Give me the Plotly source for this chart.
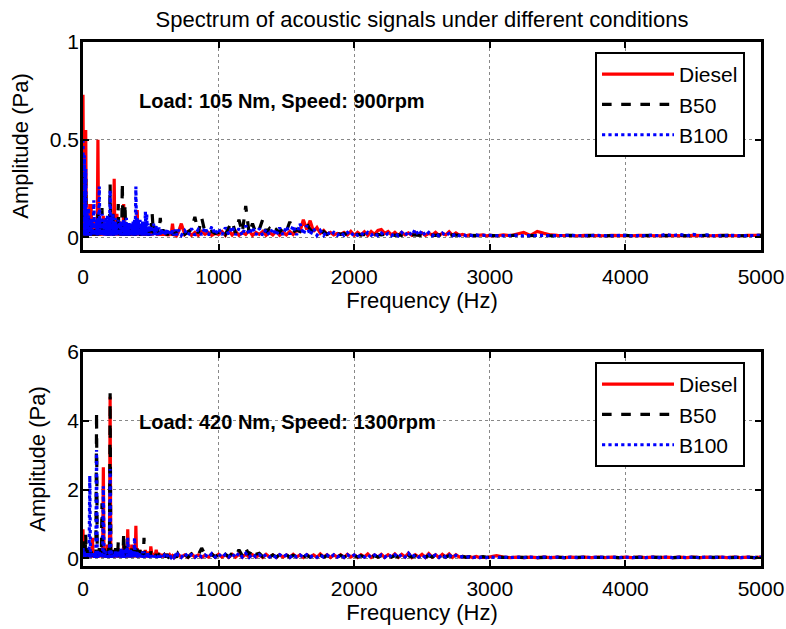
import plotly.graph_objects as go

# ---------------- data (amplitudes in mPa) ----------------
freq_lo = list(range(0, 500, 5))         # 100 bins
freq_lo2 = list(range(500, 700, 10))     # 20 bins
freq_mid = list(range(700, 3000, 25))    # 92 bins
freq_hi = list(range(3000, 5001, 50))    # 41 bins
freq = freq_lo + freq_lo2 + freq_mid + freq_hi

series_names = ["Diesel", "B50", "B100"]
annotations_text = ["Load: 105 Nm, Speed: 900rpm", "Load: 420 Nm, Speed: 1300rpm"]

# ---- top panel: 105 Nm, 900 rpm ----
top_diesel_lo = [730, 10, 300, 8, 550, 12, 100, 8, 120, 10, 170, 8, 170, 10, 80, 8, 90, 10, 60, 8,
                 60, 10, 500, 8, 80, 12, 80, 8, 60, 10, 110, 8, 60, 10, 70, 8, 50, 10, 60, 8,
                 50, 10, 90, 8, 60, 12, 300, 8, 80, 10, 120, 8, 60, 10, 80, 8, 50, 10, 60, 8,
                 170, 10, 60, 8, 70, 12, 50, 8, 60, 10, 50, 8, 50, 10, 40, 8, 40, 10, 50, 8,
                 140, 10, 60, 8, 60, 12, 40, 8, 50, 10, 40, 8, 40, 10, 30, 8, 35, 10, 30, 8]
top_diesel_lo2 = [40, 10, 35, 15, 30, 10, 25, 10, 30, 10, 25, 10, 20, 8, 25, 10, 70, 8, 15, 8]
top_diesel_mid = [20, 70, 15, 30, 10, 25, 10, 30, 15, 25, 10, 20,
                  15, 30, 10, 35, 12, 30, 10, 25, 15, 35, 10, 25,
                  15, 30, 10, 25, 12, 30, 10, 25, 12, 30, 15, 35,
                  30, 90, 40, 85, 30, 50, 20, 35, 15, 25, 12, 20,
                  15, 25, 12, 30, 10, 25, 12, 28, 10, 30, 15, 35,
                  40, 20, 30, 12, 25, 10, 25, 12, 22, 10, 25, 12,
                  22, 10, 20, 12, 25, 10, 20, 12, 28, 10, 22, 10,
                  15, 8, 12, 8, 10, 8, 12, 8]
top_diesel_hi = [10, 8, 12, 8, 15, 25, 10, 30, 20, 12,
                 10, 8, 10, 8, 10, 8, 10, 8, 10, 8,
                 10, 8, 10, 8, 10, 8, 10, 8, 10, 8,
                 10, 8, 10, 8, 10, 8, 10, 8, 10, 8, 10]

top_b50_lo = [330, 8, 300, 10, 300, 8, 80, 12, 100, 8, 80, 10, 80, 8, 60, 10, 60, 8, 50, 10,
              50, 8, 120, 10, 70, 8, 70, 12, 150, 8, 60, 10, 60, 8, 50, 10, 50, 8, 60, 10,
              270, 8, 120, 10, 120, 8, 60, 12, 80, 8, 60, 10, 170, 8, 60, 10, 60, 8, 280, 10,
              80, 8, 170, 10, 60, 8, 60, 12, 50, 8, 50, 10, 50, 8, 40, 10, 40, 8, 50, 10,
              40, 8, 60, 10, 40, 8, 50, 12, 40, 8, 40, 10, 40, 8, 50, 10, 40, 8, 30, 10]
top_b50_lo2 = [20, 120, 15, 60, 20, 40, 15, 100, 20, 40, 15, 40, 10, 30, 15, 35, 10, 25, 15, 30]
top_b50_mid = [20, 35, 15, 30, 40, 105, 20, 100, 25, 25, 30, 20,
               25, 40, 15, 50, 80, 20, 90, 25, 160, 20, 70, 20,
               40, 90, 25, 45, 20, 40, 25, 50, 30, 80, 25, 40,
               30, 50, 70, 40, 25, 30, 20, 30, 15, 25, 15, 20,
               15, 20, 12, 18, 10, 15, 12, 15, 10, 15, 12, 15,
               12, 15, 10, 15, 10, 12, 10, 15, 10, 12, 10, 12,
               10, 12, 10, 12, 10, 12, 10, 12, 10, 12, 10, 12,
               10, 8, 10, 8, 10, 8, 10, 8]
top_b50_hi = [10, 8, 10, 8, 10, 8, 10, 8, 10, 8,
              10, 8, 10, 8, 10, 8, 10, 8, 10, 8,
              10, 8, 10, 8, 10, 8, 10, 8, 10, 8,
              10, 8, 10, 8, 10, 8, 10, 8, 10, 8, 10]

top_b100_lo = [500, 10, 420, 8, 350, 12, 120, 8, 150, 10, 90, 8, 100, 12, 80, 8, 190, 10, 90, 8,
               80, 10, 100, 8, 260, 12, 90, 8, 120, 10, 80, 8, 90, 12, 100, 8, 110, 10, 90, 8,
               240, 10, 90, 8, 120, 12, 80, 8, 100, 10, 70, 8, 90, 12, 80, 8, 80, 10, 70, 8,
               90, 10, 80, 8, 100, 12, 70, 8, 80, 10, 70, 8, 70, 12, 80, 8, 90, 10, 260, 8,
               100, 10, 80, 8, 90, 12, 70, 8, 80, 10, 70, 8, 130, 12, 120, 8, 70, 10, 60, 8]
top_b100_lo2 = [60, 10, 70, 10, 60, 10, 50, 10, 45, 10, 40, 10, 45, 10, 40, 10, 35, 10, 40, 10]
top_b100_mid = [40, 10, 35, 10, 45, 10, 40, 12, 50, 10, 55, 15,
                45, 12, 50, 15, 55, 12, 45, 10, 60, 15, 50, 12,
                45, 10, 40, 12, 45, 10, 50, 12, 55, 15, 60, 12,
                70, 15, 60, 12, 45, 10, 35, 10, 30, 10, 25, 10,
                25, 10, 25, 8, 25, 10, 22, 8, 25, 10, 22, 8,
                22, 8, 20, 8, 22, 8, 25, 8, 30, 10, 40, 10,
                35, 8, 25, 8, 20, 8, 22, 8, 20, 8, 18, 8,
                15, 8, 12, 8, 12, 8, 10, 8]
top_b100_hi = [10, 8, 10, 8, 10, 8, 10, 8, 10, 8,
               10, 8, 10, 8, 10, 8, 10, 8, 10, 8,
               10, 8, 10, 8, 10, 8, 15, 8, 15, 8,
               15, 8, 12, 8, 10, 8, 10, 8, 10, 8, 10]

# ---- bottom panel: 420 Nm, 1300 rpm ----
bot_diesel_lo = [850, 40, 300, 30, 300, 50, 200, 30, 200, 40, 150, 30, 150, 50, 600, 30, 150, 40, 200, 30,
                 200, 40, 150, 30, 150, 50, 300, 30, 200, 40, 2650, 30, 200, 50, 150, 30, 400, 40, 200, 30,
                 4700, 40, 200, 30, 150, 50, 150, 30, 200, 40, 150, 30, 300, 50, 200, 30, 250, 40, 200, 30,
                 400, 40, 250, 30, 350, 50, 850, 30, 300, 40, 250, 30, 400, 50, 300, 30, 300, 40, 950, 30,
                 300, 40, 200, 30, 250, 50, 200, 30, 200, 40, 200, 30, 250, 50, 150, 30, 200, 40, 150, 30]
bot_diesel_lo2 = [350, 60, 150, 50, 250, 50, 150, 40, 120, 40, 100, 40, 120, 40, 100, 40, 80, 30, 100, 30]
bot_diesel_mid = [120, 40, 100, 30, 130, 40, 100, 30, 90, 40, 130, 40,
                  120, 40, 110, 30, 120, 40, 130, 40, 120, 40, 110, 40,
                  100, 30, 120, 40, 100, 30, 110, 40, 100, 30, 120, 40,
                  100, 30, 110, 40, 100, 30, 130, 40, 110, 30, 100, 40,
                  110, 30, 120, 40, 100, 30, 110, 40, 130, 30, 100, 40,
                  120, 30, 110, 40, 130, 30, 120, 40, 150, 30, 110, 40,
                  120, 30, 140, 40, 110, 30, 120, 40, 130, 30, 110, 40,
                  60, 30, 50, 25, 60, 25, 40, 25]
bot_diesel_hi = [40, 80, 40, 25, 40, 25, 40, 25, 40, 25,
                 40, 25, 40, 25, 40, 25, 40, 25, 40, 25,
                 40, 25, 40, 25, 40, 25, 40, 25, 40, 25,
                 40, 25, 40, 25, 40, 25, 40, 25, 40, 25, 40]

bot_b50_lo = [500, 30, 300, 40, 700, 30, 200, 50, 300, 30, 150, 40, 200, 30, 150, 50, 150, 30, 200, 40,
              4250, 30, 200, 40, 300, 30, 250, 50, 1600, 30, 300, 40, 400, 30, 250, 50, 200, 30, 300, 40,
              4800, 30, 250, 40, 200, 30, 250, 50, 300, 30, 300, 40, 500, 30, 300, 50, 300, 30, 350, 40,
              750, 30, 300, 40, 400, 30, 300, 50, 350, 30, 250, 40, 300, 30, 250, 50, 250, 30, 300, 40,
              300, 30, 200, 40, 250, 30, 200, 50, 300, 30, 600, 40, 200, 30, 150, 50, 150, 30, 150, 40]
bot_b50_lo2 = [200, 60, 150, 50, 120, 40, 100, 40, 120, 40, 100, 40, 120, 50, 100, 40, 90, 30, 100, 30]
bot_b50_mid = [150, 40, 120, 40, 130, 40, 100, 300, 120, 50, 120, 40,
               130, 40, 120, 50, 150, 60, 250, 80, 300, 100, 290, 120,
               150, 50, 120, 40, 100, 40, 110, 40, 100, 40, 90, 40,
               100, 40, 90, 40, 100, 40, 90, 40, 80, 40, 90, 40,
               90, 40, 80, 40, 90, 40, 80, 40, 90, 40, 80, 40,
               80, 40, 90, 40, 80, 40, 90, 40, 80, 40, 80, 40,
               80, 40, 80, 40, 90, 40, 80, 40, 80, 40, 70, 40,
               60, 30, 50, 30, 50, 30, 50, 30]
bot_b50_hi = [35, 25, 35, 25, 35, 25, 35, 25, 35, 25,
              35, 25, 35, 25, 35, 25, 35, 25, 35, 25,
              35, 25, 35, 25, 35, 25, 35, 25, 35, 25,
              35, 25, 35, 25, 35, 25, 35, 25, 35, 25, 35]

bot_b100_lo = [300, 20, 200, 30, 150, 40, 150, 30, 100, 20, 2400, 30, 150, 40, 150, 30, 150, 20, 150, 30,
               3150, 20, 200, 30, 200, 40, 200, 30, 150, 20, 2100, 30, 150, 40, 200, 30, 100, 20, 150, 30,
               2600, 20, 200, 30, 150, 40, 150, 30, 250, 20, 200, 30, 200, 40, 200, 30, 300, 20, 250, 30,
               250, 20, 200, 30, 300, 40, 600, 30, 200, 20, 250, 30, 250, 40, 200, 30, 600, 20, 200, 30,
               200, 20, 150, 30, 150, 40, 150, 30, 200, 20, 200, 30, 150, 40, 150, 30, 150, 20, 120, 30]
bot_b100_lo2 = [150, 40, 120, 40, 100, 30, 120, 40, 100, 30, 90, 30, 100, 30, 90, 30, 80, 30, 90, 30]
bot_b100_mid = [120, 30, 150, 40, 110, 30, 120, 40, 100, 30, 140, 40,
                130, 30, 120, 40, 140, 30, 160, 40, 150, 30, 130, 40,
                110, 30, 120, 40, 100, 30, 110, 40, 100, 30, 110, 40,
                100, 30, 110, 40, 90, 30, 100, 40, 100, 30, 110, 40,
                100, 30, 110, 40, 100, 30, 100, 40, 110, 30, 100, 40,
                100, 30, 120, 40, 110, 30, 120, 40, 150, 30, 110, 40,
                100, 30, 110, 40, 100, 30, 110, 40, 100, 30, 90, 40,
                50, 30, 50, 25, 45, 25, 40, 25]
bot_b100_hi = [40, 25, 40, 25, 40, 25, 40, 25, 40, 25,
               40, 25, 40, 25, 40, 25, 40, 25, 40, 25,
               40, 25, 40, 25, 40, 25, 40, 25, 40, 25,
               40, 25, 40, 25, 40, 25, 40, 25, 40, 25, 40]

top_series = [top_diesel_lo + top_diesel_lo2 + top_diesel_mid + top_diesel_hi,
              top_b50_lo + top_b50_lo2 + top_b50_mid + top_b50_hi,
              top_b100_lo + top_b100_lo2 + top_b100_mid + top_b100_hi]
bot_series = [bot_diesel_lo + bot_diesel_lo2 + bot_diesel_mid + bot_diesel_hi,
              bot_b50_lo + bot_b50_lo2 + bot_b50_mid + bot_b50_hi,
              bot_b100_lo + bot_b100_lo2 + bot_b100_mid + bot_b100_hi]

x_ticks = [0, 1000, 2000, 3000, 4000, 5000]
top_y_ticks = [0, 0.5, 1]
top_y_labels = ["0", "0.5", "1"]
bot_y_ticks = [0, 2, 4, 6]

# ---------------- styling ----------------
FONT = "Liberation Sans, Arial, Helvetica, sans-serif"
colors = ["#ff0000", "#000000", "#0000ff"]
dashes = ["solid", "dash", "dot"]
W, H = 786, 629

fig = go.Figure()
for series, xa, ya, lg in [(top_series, "x", "y", "legend"),
                           (bot_series, "x2", "y2", "legend2")]:
    for name, vals, c, d in zip(series_names, series, colors, dashes):
        fig.add_trace(go.Scatter(
            x=freq, y=[v / 1000 for v in vals], mode="lines", name=name,
            line=dict(color=c, width=3.2, dash=d), xaxis=xa, yaxis=ya,
            legend=lg, showlegend=True))

axis_common = dict(
    showline=True, linecolor="black", linewidth=2.5, mirror="ticks",
    ticks="inside", ticklen=6, tickwidth=2, tickcolor="black",
    showgrid=True, gridcolor="#888888", griddash="dot", gridwidth=1,
    zeroline=False, automargin=False,
    tickfont=dict(family=FONT, size=21, color="black"),
    title_font=dict(family=FONT, size=22, color="black"),
)

x0, x1 = 83 / W, 761 / W
legend_common = dict(xanchor="left", yanchor="top", bgcolor="white",
                     bordercolor="black", borderwidth=2,
                     font=dict(family=FONT, size=21, color="black"),
                     itemwidth=72, tracegroupgap=0)
fig.update_layout(
    width=W, height=H, paper_bgcolor="white", plot_bgcolor="white",
    margin=dict(l=0, r=0, t=0, b=0, autoexpand=False),
    font=dict(family=FONT, size=21, color="black"),
    title=dict(text="Spectrum of acoustic signals under different conditions",
               x=422 / W, xanchor="center", y=1 - 19 / H, yanchor="middle",
               font=dict(family=FONT, size=22, color="black")),
    xaxis=dict(domain=[x0, x1], range=[0, 5000], tickvals=x_ticks, anchor="y",
               title=dict(text="Frequency (Hz)", standoff=0), ticklabelstandoff=6,
               **axis_common),
    yaxis=dict(domain=[1 - 250 / H, 1 - 42 / H], range=[-0.065, 1], tickvals=top_y_ticks,
               ticktext=top_y_labels, anchor="x",
               title=dict(text="Amplitude (Pa)", standoff=16), ticklabelstandoff=-3,
               **axis_common),
    xaxis2=dict(domain=[x0, x1], range=[0, 5000], tickvals=x_ticks, anchor="y2",
                title=dict(text="Frequency (Hz)", standoff=0), ticklabelstandoff=2,
                **axis_common),
    yaxis2=dict(domain=[1 - 566 / H, 1 - 352 / H], range=[-0.22, 6], tickvals=bot_y_ticks,
                anchor="x2",
                title=dict(text="Amplitude (Pa)", standoff=16), ticklabelstandoff=-3,
                **axis_common),
    legend=dict(x=595 / W, y=1 - 52 / H, **legend_common),
    legend2=dict(x=595 / W, y=1 - 362 / H, **legend_common),
    showlegend=True,
)

fig.add_annotation(text="<b>" + annotations_text[0] + "</b>", xref="x", yref="y",
                   x=398, y=0.70, xanchor="left", yanchor="middle", showarrow=False,
                   font=dict(family=FONT, size=20, color="black"))
fig.add_annotation(text="<b>" + annotations_text[1] + "</b>", xref="x2", yref="y2",
                   x=398, y=3.97, xanchor="left", yanchor="middle", showarrow=False,
                   font=dict(family=FONT, size=20, color="black"))

fig.write_html("out.html", config={"displayModeBar": False},
               post_script="document.body.style.margin='0';document.body.style.padding='0';")
